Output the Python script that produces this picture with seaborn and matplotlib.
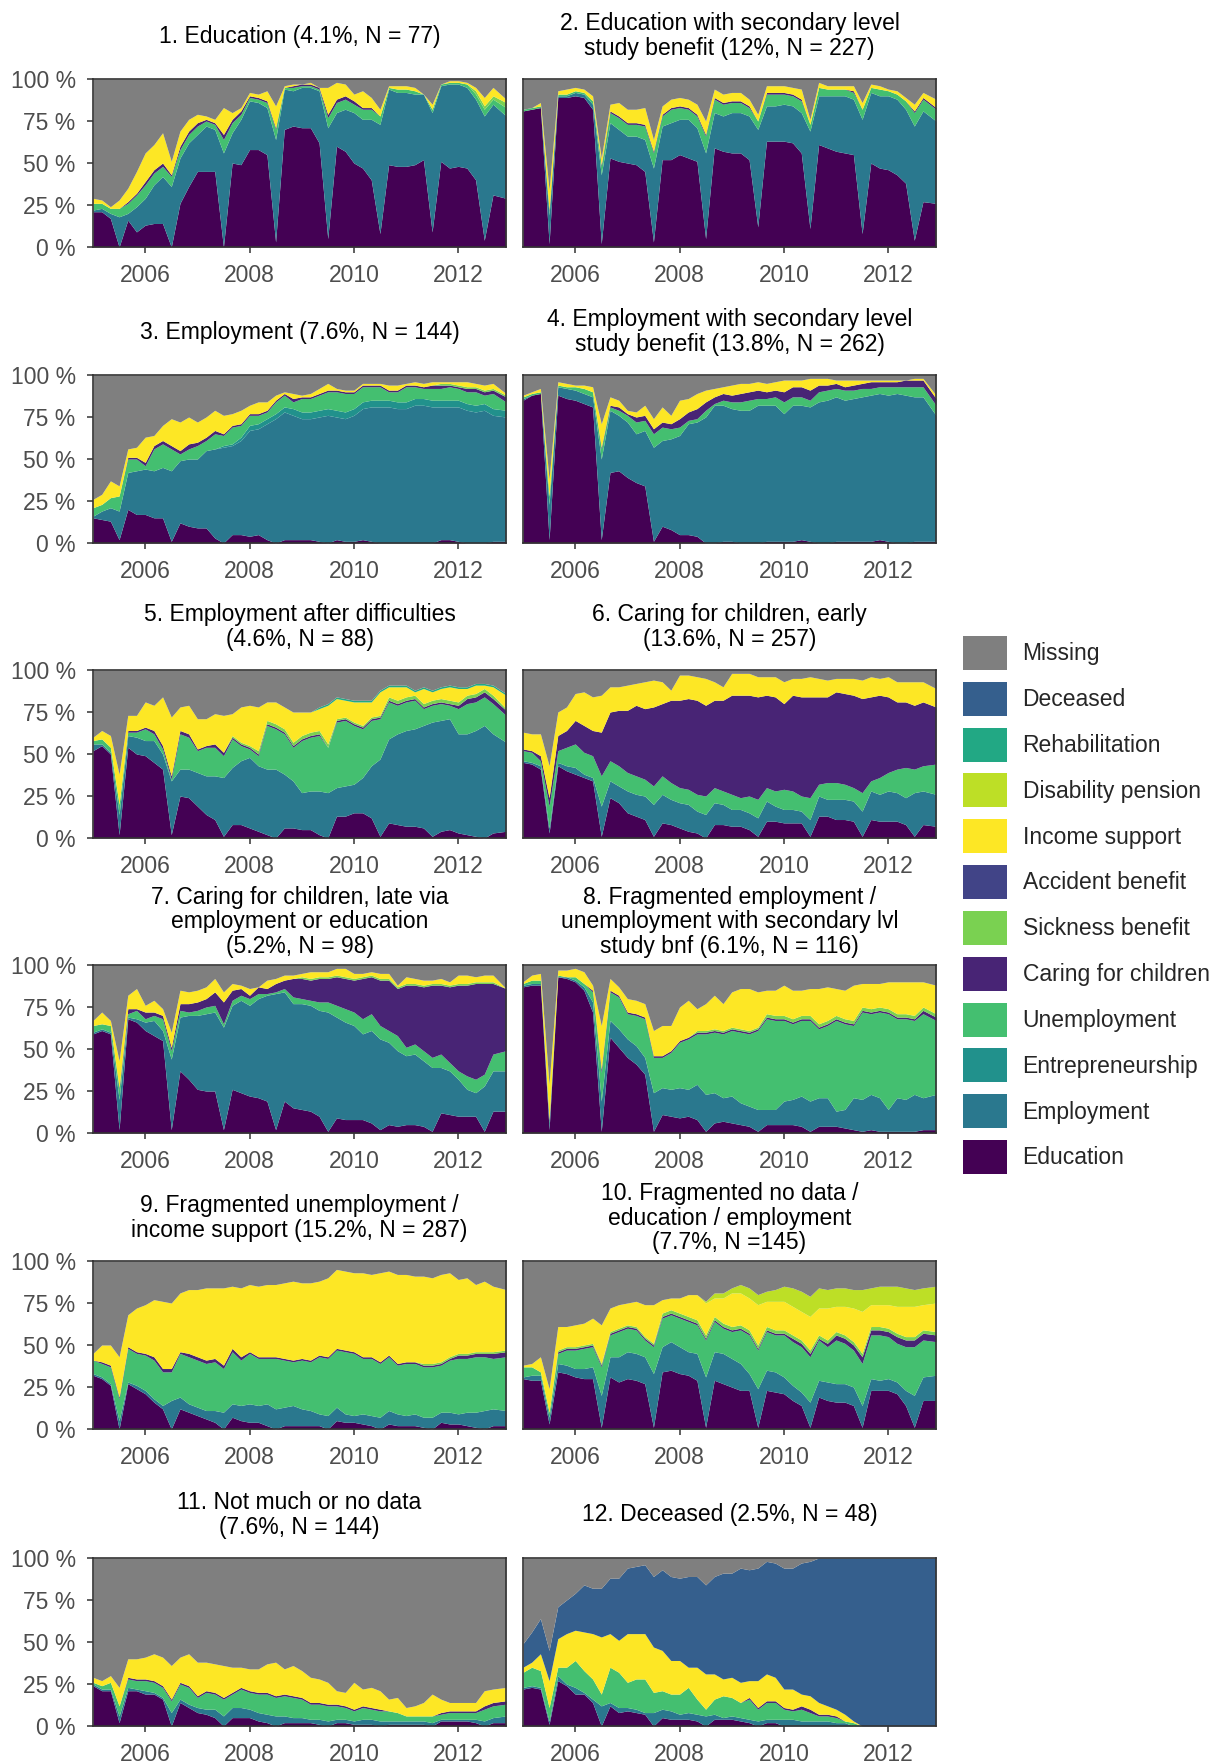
import numpy as np
import matplotlib
matplotlib.use('Agg')
import matplotlib.pyplot as plt
from matplotlib.patches import Patch
import seaborn as sns

# time axis: every second month Jan 2005 .. Nov 2012, plus Dec 2012
months = np.array(list(range(0, 94, 2)) + [95])
time = 2005 + months / 12

STATES = ['Education', 'Employment', 'Entrepreneurship', 'Unemployment',
          'Caring for children', 'Sickness benefit', 'Accident benefit',
          'Income support', 'Disability pension', 'Rehabilitation',
          'Deceased', 'Missing']
COLORS = ['#440154', '#2A788E', '#21918C', '#44BF70', '#482475', '#7AD151',
          '#414487', '#FDE725', '#BDDF26', '#22A884', '#355F8D', '#7F7F7F']

# shares in % per state (missing = rest up to 100)
p1_edu = [21,21,17,0,16,9,13,14,14,0,26,36,45,45,45,0,50,49,58,58,55,3,70,72,71,71,62,5,60,57,50,47,40,8,49,48,48,49,52,9,51,47,48,47,40,4,31,29]
p1_emp = [1,2,3,18,4,15,16,23,28,36,27,26,22,27,25,56,18,27,29,28,28,61,24,21,24,24,31,66,20,25,30,29,36,65,45,44,44,42,39,71,45,50,49,48,48,74,54,49]
p1_une = [4,3,3,5,6,7,8,7,6,6,5,5,5,3,3,8,6,3,2,2,3,6,1,2,1,1,1,6,6,6,5,6,6,5,1,2,2,2,0,2,1,1,1,2,3,4,3,5]
p1_car = [0,0,0,0,1,1,2,2,2,1,2,2,2,1,1,3,2,2,1,1,1,1,0,1,1,1,1,2,2,2,2,1,1,0,0,0,0,0,0,0,0,0,0,0,0,0,0,0]
p1_sic = [0,0,0,0,0,0,0,0,0,0,0,0,0,0,0,0,0,0,0,0,0,0,0,0,0,0,0,0,0,0,0,0,0,0,0,0,0,0,0,0,0,0,0,0,2,2,2,3]
p1_inc = [3,2,1,5,8,13,17,15,18,8,9,7,5,2,2,16,4,2,2,2,6,13,1,1,0,1,0,16,10,7,4,10,6,4,1,2,2,2,0,3,0,1,1,1,2,5,5,2]

p2_edu = [81,82,83,2,89,89,90,89,82,2,53,51,50,49,45,3,52,52,55,53,51,5,59,57,56,56,52,12,63,63,63,62,56,11,61,59,57,56,55,8,50,47,46,43,38,4,27,26]
p2_emp = [0,0,0,17,1,1,2,2,3,41,21,19,16,17,19,44,20,22,21,23,20,51,21,21,24,24,26,58,21,21,22,22,24,58,29,31,33,34,33,68,42,43,44,45,44,68,54,49]
p2_une = [1,1,1,2,1,1,1,1,2,5,6,7,7,7,8,9,6,8,7,6,7,10,8,7,6,6,5,5,7,7,6,6,7,4,5,4,4,4,4,6,3,4,3,3,5,8,7,7]
p2_car = [0,0,0,1,0,0,0,0,0,1,1,1,1,1,1,1,1,1,1,1,1,1,1,1,1,1,1,0,1,1,1,1,1,0,0,0,0,0,1,0,0,0,0,0,0,1,1,1]
p2_inc = [0,0,2,12,2,3,2,2,3,4,4,8,8,8,10,7,5,5,5,5,6,8,5,5,5,5,4,4,4,4,4,4,6,3,3,2,2,2,3,4,2,2,1,2,2,4,3,5]

p3_edu = [15,14,13,2,20,17,17,15,15,1,12,10,9,9,3,0,5,5,4,5,2,0,2,2,2,2,1,0,2,1,1,2,1,0,0,0,0,0,0,0,2,2,1,0,0,0,1,1]
p3_emp = [1,5,8,17,22,26,27,28,30,42,37,40,41,46,53,57,53,56,63,63,69,74,76,74,72,72,74,76,73,73,75,78,80,81,81,80,80,82,82,81,79,79,80,79,78,79,75,74]
p3_ent = [0,0,0,0,0,0,0,0,0,0,0,0,0,0,0,1,1,2,3,3,3,3,3,4,4,4,4,4,4,4,4,4,4,4,4,4,4,4,4,4,4,4,4,4,4,4,4,4]
p3_une = [5,4,6,9,8,7,2,13,14,13,4,6,8,6,9,6,10,7,6,5,4,7,7,4,8,8,9,10,11,11,9,9,8,8,5,6,9,7,6,7,7,8,7,7,8,5,9,5]
p3_car = [0,0,0,0,1,1,2,2,2,2,2,3,2,2,2,1,1,1,1,1,1,1,1,2,1,1,1,1,1,1,1,1,1,1,1,1,1,1,1,2,2,1,1,2,2,2,2,3]
p3_sic = [0,0,0,0,0,0,0,0,0,0,0,0,0,0,0,0,0,0,0,0,0,0,0,0,0,0,0,0,0,0,0,0,0,0,0,0,0,0,0,0,1,1,1,1,1,1,1,1]
p3_inc = [5,6,10,6,5,6,15,6,9,16,17,16,12,12,12,11,7,8,5,7,5,3,1,3,1,2,3,4,1,1,1,1,1,1,3,3,1,2,2,2,1,1,2,3,2,3,3,1]

p4_edu = [85,88,89,2,88,86,85,83,81,2,42,43,39,36,34,1,10,8,5,5,4,0,0,1,1,0,0,0,1,1,1,1,2,1,0,0,1,1,1,1,1,2,1,0,0,1,1,1]
p4_emp = [1,0,0,21,5,6,6,6,6,48,37,33,33,29,33,56,51,54,59,66,68,75,82,81,79,79,79,82,81,81,76,81,80,80,84,85,86,84,85,86,87,87,87,89,88,86,86,75]
p4_une = [1,1,1,5,1,1,2,3,3,6,2,3,4,7,6,8,8,6,5,2,2,4,1,3,4,5,6,4,4,5,7,5,5,4,6,6,5,6,5,5,4,4,5,4,5,6,6,6]
p4_car = [0,0,0,0,0,0,0,0,0,1,1,2,1,3,3,3,3,3,5,5,6,5,4,4,4,5,5,5,4,4,6,6,6,6,4,3,3,2,3,3,4,3,3,3,4,4,4,4]
p4_inc = [1,1,2,10,2,2,1,2,3,14,5,4,2,3,6,6,9,5,11,8,9,7,5,4,6,6,5,5,5,5,7,4,4,7,4,4,2,4,3,2,1,1,1,1,0,1,1,2]

p5_edu = [52,55,50,2,54,50,49,45,41,2,25,24,19,14,11,1,8,8,6,4,2,0,6,6,5,5,2,0,13,13,15,15,12,1,9,8,7,7,6,1,4,5,3,2,1,0,3,4]
p5_emp = [4,1,1,12,7,10,9,13,9,32,16,17,20,23,26,35,34,38,42,39,39,41,32,28,22,23,26,27,17,18,17,21,31,46,50,54,57,58,61,68,66,66,59,60,63,67,59,53]
p5_une = [2,3,3,6,2,3,7,4,3,1,21,19,13,17,17,13,17,9,5,6,26,24,24,20,31,32,33,27,39,39,35,29,27,24,22,17,17,17,10,10,10,8,15,18,17,17,18,16]
p5_car = [0,0,0,0,1,1,1,2,2,2,2,2,1,1,2,2,1,1,1,1,1,1,1,1,1,1,1,0,1,1,1,1,1,1,1,1,1,1,1,1,1,1,2,3,3,3,3,3]
p5_sic = [0,0,0,0,0,0,0,0,0,0,0,0,0,0,0,0,1,1,1,2,2,2,2,2,2,2,2,2,1,1,1,1,1,1,2,2,2,2,2,2,2,2,2,2,2,2,2,1]
p5_inc = [2,5,7,18,9,9,15,15,29,35,14,17,18,16,18,22,13,21,24,26,11,13,13,18,14,12,13,23,12,10,12,14,9,14,6,8,6,2,9,5,6,8,8,4,5,2,5,8]
p5_reh = [0,0,0,0,0,0,0,0,0,0,0,0,0,0,0,0,0,0,0,0,0,0,0,0,0,0,1,1,1,1,1,1,1,1,1,1,1,1,1,1,1,1,1,1,1,1,1,1]

p6_edu = [45,44,41,3,43,40,38,36,34,1,24,21,15,13,11,1,9,8,6,4,3,0,8,8,7,7,5,1,10,10,9,9,9,1,13,13,11,11,10,1,11,10,10,10,8,1,8,7]
p6_emp = [1,1,2,3,2,3,4,2,2,18,10,10,13,13,14,19,17,15,15,16,13,14,13,12,10,10,10,11,12,9,8,8,7,10,12,10,12,12,12,15,17,16,18,17,16,26,20,19]
p6_une = [6,6,3,13,7,11,14,13,13,18,12,12,11,11,10,11,11,10,9,9,10,11,9,8,9,7,10,11,8,9,12,11,9,13,7,10,10,9,8,11,6,10,11,14,18,14,15,18]
p6_car = [1,1,3,5,9,10,14,16,15,26,29,33,37,42,42,47,43,49,52,54,56,54,52,54,59,61,60,61,55,56,51,57,59,60,52,51,54,54,55,56,50,49,45,40,39,38,38,34]
p6_inc = [10,10,13,19,14,14,16,20,20,22,15,14,15,13,16,16,13,6,15,14,14,16,11,8,13,13,13,12,11,12,13,10,11,12,11,10,8,9,10,11,12,10,12,12,12,14,12,11]

p7_edu = [59,61,59,2,68,66,61,58,55,2,37,32,26,25,25,2,26,24,22,21,19,2,19,15,14,13,10,1,9,8,8,8,6,2,5,4,5,5,4,1,12,11,10,10,10,1,13,13]
p7_emp = [1,1,1,18,1,2,5,9,6,42,32,38,44,46,47,61,50,55,54,59,63,81,65,62,63,63,63,71,60,58,56,51,55,54,49,45,41,42,39,38,27,26,22,16,14,27,24,24]
p7_une = [4,3,4,6,2,5,2,3,7,5,4,2,3,4,4,2,3,3,4,3,1,1,2,4,3,3,5,6,7,8,8,9,10,8,7,9,5,6,6,6,8,5,5,8,8,7,10,12]
p7_car = [0,0,0,1,3,1,4,2,2,2,4,5,5,5,8,13,6,4,2,4,3,5,5,11,12,12,14,14,17,18,19,24,22,27,30,28,37,35,38,43,41,45,51,54,57,54,42,37]
p7_sic = [0,0,0,0,0,0,0,0,0,0,0,0,0,0,0,0,0,0,0,0,0,0,0,0,1,1,1,1,1,1,1,1,1,1,1,1,1,1,1,1,1,1,1,1,1,1,1,0]
p7_inc = [3,7,3,16,8,12,4,7,4,9,8,7,7,7,8,6,4,2,4,0,5,3,3,2,2,4,3,3,4,5,3,2,2,3,3,1,4,3,3,2,3,2,5,5,3,4,4,0]

p8_edu = [87,88,88,2,93,92,90,85,72,1,57,51,45,41,35,1,11,10,9,10,8,1,6,7,6,5,4,1,5,5,5,5,4,1,4,4,4,3,2,1,2,1,1,1,1,1,2,2]
p8_emp = [1,1,1,4,0,1,1,2,6,18,10,11,11,11,10,23,16,16,18,16,21,22,18,14,16,13,12,13,9,9,14,15,18,18,17,17,9,11,19,19,21,20,13,20,19,22,19,21]
p8_une = [1,2,2,1,1,0,2,2,6,17,17,19,15,18,23,21,18,22,27,30,30,36,36,38,39,42,43,47,54,53,48,45,45,48,41,43,54,51,43,52,48,51,57,47,48,44,50,44]
p8_car = [0,0,0,1,0,0,0,0,1,2,1,1,1,1,1,1,1,1,1,1,1,1,1,1,1,1,1,1,1,1,1,1,1,1,1,1,1,1,1,1,1,1,1,1,1,1,2,2]
p8_sic = [0,0,0,0,0,0,0,0,0,0,0,0,0,0,0,0,0,0,0,0,1,1,1,1,1,1,1,1,2,2,2,2,2,2,2,2,2,2,2,2,2,2,2,2,2,2,2,2]
p8_inc = [1,3,4,21,3,4,5,7,3,26,7,5,8,8,8,15,18,15,20,22,13,16,20,16,21,24,25,21,14,15,18,17,15,16,21,20,16,17,21,14,15,14,16,19,19,20,15,17]

p9_edu = [32,30,26,0,27,24,21,16,12,0,12,10,8,6,4,0,7,5,4,4,2,0,2,2,2,2,2,0,5,4,4,3,2,0,3,2,2,2,1,0,4,3,3,2,1,0,2,2]
p9_emp = [1,1,1,5,1,2,2,2,2,17,7,5,5,5,7,10,8,9,11,10,13,12,11,12,10,9,7,8,8,5,4,6,6,7,8,7,6,7,6,7,6,7,6,8,9,11,10,9]
p9_une = [8,8,10,13,20,19,21,23,20,17,26,28,28,28,29,26,31,27,30,28,27,30,28,26,29,29,34,34,34,37,37,33,34,32,32,29,31,30,30,30,28,31,33,32,33,32,30,32]
p9_car = [0,1,1,1,1,1,1,2,2,2,1,2,2,2,2,2,2,2,1,1,1,1,1,1,1,1,1,1,1,1,1,1,1,1,1,1,1,1,1,1,1,1,2,2,2,2,3,3]
p9_sic = [0,0,0,0,0,0,0,0,0,0,0,0,0,0,0,0,0,0,0,0,0,0,0,0,0,0,0,0,0,0,0,0,0,0,0,0,0,0,1,1,1,1,1,1,1,1,1,1]
p9_inc = [4,10,12,24,19,26,29,34,40,39,35,38,40,43,42,46,37,41,40,42,43,43,45,47,45,46,44,47,47,47,47,50,49,53,50,53,52,51,52,51,52,50,44,45,40,42,39,36]

p10_edu = [30,29,29,3,34,33,31,30,30,1,31,28,30,29,27,1,34,35,33,32,29,1,29,27,25,23,23,1,23,22,21,17,14,1,19,17,16,16,14,1,23,23,23,21,14,1,17,17]
p10_emp = [1,3,3,4,5,5,5,6,7,19,12,15,16,16,16,32,15,17,16,14,16,30,17,18,17,16,10,23,12,12,10,9,8,15,10,11,11,11,11,13,7,6,7,7,9,19,14,15]
p10_une = [6,5,2,3,6,9,11,12,12,17,13,15,14,14,10,16,17,16,17,18,17,22,18,15,16,20,23,23,23,22,25,26,27,27,24,21,26,24,22,25,26,27,25,23,26,29,22,20]
p10_car = [0,0,0,0,1,1,1,1,1,1,1,1,1,1,1,1,1,1,1,1,1,1,1,1,1,1,1,1,1,1,1,2,2,2,1,2,3,3,3,4,3,3,3,4,4,4,4,4]
p10_sic = [0,0,0,0,1,1,1,1,1,1,1,1,1,1,1,1,2,2,2,2,2,2,2,2,2,2,2,2,2,2,2,2,2,2,2,2,2,2,2,2,2,2,2,2,2,2,2,2]
p10_inc = [1,2,9,14,14,12,13,13,15,23,14,14,13,15,19,23,8,7,9,13,15,19,11,15,20,19,19,24,15,17,17,17,17,20,16,19,15,17,20,25,13,13,14,16,18,18,15,17]
p10_dis = [0,0,0,0,0,0,0,0,0,0,0,0,0,0,0,0,0,0,0,0,0,1,3,3,3,5,6,6,6,7,9,11,12,12,12,11,11,11,11,13,10,11,11,12,11,10,10,10]

p11_edu = [24,21,21,2,21,21,19,19,16,0,14,11,8,7,5,0,5,5,5,3,2,0,2,2,2,2,1,0,2,2,1,1,1,0,1,1,1,1,1,0,3,3,3,3,2,0,2,2]
p11_emp = [1,1,1,4,2,1,2,1,1,8,2,2,3,3,5,6,6,6,5,5,5,6,4,3,3,2,3,3,2,2,2,3,3,3,2,2,2,2,2,2,1,1,1,1,2,3,3,4]
p11_une = [1,2,4,6,5,5,6,6,6,7,9,10,6,10,9,10,8,11,10,11,12,11,12,12,11,9,9,9,8,7,6,7,6,6,6,5,3,3,3,4,3,4,4,4,4,7,7,7]
p11_car = [0,0,0,0,1,1,1,1,1,1,1,1,1,1,1,1,1,1,1,1,1,1,1,1,1,1,1,1,1,1,1,1,1,1,0,0,0,0,0,0,1,1,1,1,1,2,2,2]
p11_inc = [3,3,4,11,11,12,13,16,17,20,15,19,20,17,17,19,15,12,13,14,17,20,15,18,16,15,14,13,8,8,16,10,12,11,7,9,5,6,8,13,8,5,5,5,5,9,8,8]

p12_edu = [22,23,22,1,27,24,19,19,14,0,12,8,9,8,7,0,5,4,4,4,3,0,4,4,4,3,2,0,2,2,0,0,0,0,0,0,0,0,0,0,0,0,0,0,0,0,0,0]
p12_emp = [1,1,1,2,3,1,4,1,2,12,2,3,2,2,1,8,5,5,3,4,4,6,3,1,2,2,2,3,2,2,4,4,3,3,3,3,2,2,0,0,0,0,0,0,0,0,0,0]
p12_une = [9,11,10,8,5,10,16,13,12,7,21,21,15,18,20,12,11,10,12,15,9,4,9,13,11,9,12,7,10,10,6,5,7,5,3,3,3,1,2,0,0,0,0,0,0,0,0,0]
p12_car = [0,0,0,0,0,0,0,0,0,0,0,0,0,0,0,0,0,0,0,0,0,0,0,0,0,0,1,1,1,1,1,1,2,2,1,1,1,0,0,0,0,0,0,0,0,0,0,0]
p12_inc = [3,3,10,16,17,20,18,23,27,34,20,19,29,27,27,27,24,20,20,12,19,21,15,10,12,12,10,16,16,14,11,12,7,8,7,5,4,4,1,0,0,0,0,0,0,0,0,0]
p12_dec = [14,18,21,18,19,20,22,28,27,29,33,37,39,40,41,42,48,50,49,54,54,53,58,63,62,68,66,67,67,68,72,72,78,80,86,88,90,93,97,100,100,100,100,100,100,100,100,100]

titles = [
    '1. Education (4.1%, N = 77)',
    '2. Education with secondary level\nstudy benefit (12%, N = 227)',
    '3. Employment (7.6%, N = 144)',
    '4. Employment with secondary level\nstudy benefit (13.8%, N = 262)',
    '5. Employment after difficulties\n(4.6%, N = 88)',
    '6. Caring for children, early\n(13.6%, N = 257)',
    '7. Caring for children, late via\nemployment or education\n(5.2%, N = 98)',
    '8. Fragmented employment /\nunemployment with secondary lvl\nstudy bnf (6.1%, N = 116)',
    '9. Fragmented unemployment /\nincome support (15.2%, N = 287)',
    '10. Fragmented no data /\neducation / employment\n(7.7%, N =145)',
    '11. Not much or no data\n(7.6%, N = 144)',
    '12. Deceased (2.5%, N = 48)',
]

panels = [
    {'Education': p1_edu, 'Employment': p1_emp, 'Unemployment': p1_une, 'Caring for children': p1_car,
     'Sickness benefit': p1_sic, 'Income support': p1_inc},
    {'Education': p2_edu, 'Employment': p2_emp, 'Unemployment': p2_une, 'Caring for children': p2_car,
     'Income support': p2_inc},
    {'Education': p3_edu, 'Employment': p3_emp, 'Entrepreneurship': p3_ent, 'Unemployment': p3_une,
     'Caring for children': p3_car, 'Sickness benefit': p3_sic, 'Income support': p3_inc},
    {'Education': p4_edu, 'Employment': p4_emp, 'Unemployment': p4_une, 'Caring for children': p4_car,
     'Income support': p4_inc},
    {'Education': p5_edu, 'Employment': p5_emp, 'Unemployment': p5_une, 'Caring for children': p5_car,
     'Sickness benefit': p5_sic, 'Income support': p5_inc, 'Rehabilitation': p5_reh},
    {'Education': p6_edu, 'Employment': p6_emp, 'Unemployment': p6_une, 'Caring for children': p6_car,
     'Income support': p6_inc},
    {'Education': p7_edu, 'Employment': p7_emp, 'Unemployment': p7_une, 'Caring for children': p7_car,
     'Sickness benefit': p7_sic, 'Income support': p7_inc},
    {'Education': p8_edu, 'Employment': p8_emp, 'Unemployment': p8_une, 'Caring for children': p8_car,
     'Sickness benefit': p8_sic, 'Income support': p8_inc},
    {'Education': p9_edu, 'Employment': p9_emp, 'Unemployment': p9_une, 'Caring for children': p9_car,
     'Sickness benefit': p9_sic, 'Income support': p9_inc},
    {'Education': p10_edu, 'Employment': p10_emp, 'Unemployment': p10_une, 'Caring for children': p10_car,
     'Sickness benefit': p10_sic, 'Income support': p10_inc, 'Disability pension': p10_dis},
    {'Education': p11_edu, 'Employment': p11_emp, 'Unemployment': p11_une, 'Caring for children': p11_car,
     'Income support': p11_inc},
    {'Education': p12_edu, 'Employment': p12_emp, 'Unemployment': p12_une, 'Caring for children': p12_car,
     'Income support': p12_inc, 'Deceased': p12_dec},
]

sns.set_theme(style='ticks')
plt.rcParams['font.family'] = ['Liberation Sans', 'DejaVu Sans']
FS = 16.5
DARK = '#333333'

fig = plt.figure(figsize=(12.17, 17.63), dpi=100)
W, H = 1217, 1763
col_left = [93, 523]
row_top = [79, 375, 670, 965, 1261, 1558]
pw, ph = 413, 168

for i, (title, layers) in enumerate(zip(titles, panels)):
    r, c = divmod(i, 2)
    ax = fig.add_axes([col_left[c] / W, 1 - (row_top[r] + ph) / H, pw / W, ph / H])
    vals = [np.array(layers.get(s, np.zeros(len(time))), dtype=float) for s in STATES[:-1]]
    missing = np.clip(100 - np.sum(vals, axis=0), 0, None)
    ax.stackplot(time, *vals, missing, colors=COLORS, linewidth=0)
    ax.set_xlim(time[0], time[-1])
    ax.set_ylim(0, 100)
    ax.set_xticks([2006, 2008, 2010, 2012])
    ax.set_xticklabels(['2006', '2008', '2010', '2012'])
    ax.set_yticks([0, 25, 50, 75, 100])
    ax.set_yticklabels(['0 %', '25 %', '50 %', '75 %', '100 %'])
    ax.tick_params(direction='out', length=4.5, width=1.1, color=DARK,
                   labelsize=FS, labelcolor='#4D4D4D', pad=8)
    if c == 1:
        ax.tick_params(axis='y', left=False, labelleft=False)
    for sp in ax.spines.values():
        sp.set_visible(True)
        sp.set_color(DARK)
        sp.set_linewidth(1.2)
    ax.text(0.5, 1 + 43 / ph, title, transform=ax.transAxes, ha='center', va='center',
            multialignment='center', fontsize=FS, color='black', linespacing=1.1)

handles = [Patch(facecolor=col, edgecolor='none') for col in COLORS[::-1]]
fig.legend(handles, STATES[::-1], loc='upper left', bbox_to_anchor=(963 / W, 1 - 636 / H),
           frameon=False, fontsize=FS, handlelength=1.9, handleheight=1.9,
           labelspacing=0.52, handletextpad=0.7, borderpad=0, borderaxespad=0)

fig.savefig('out.png', dpi=100)
